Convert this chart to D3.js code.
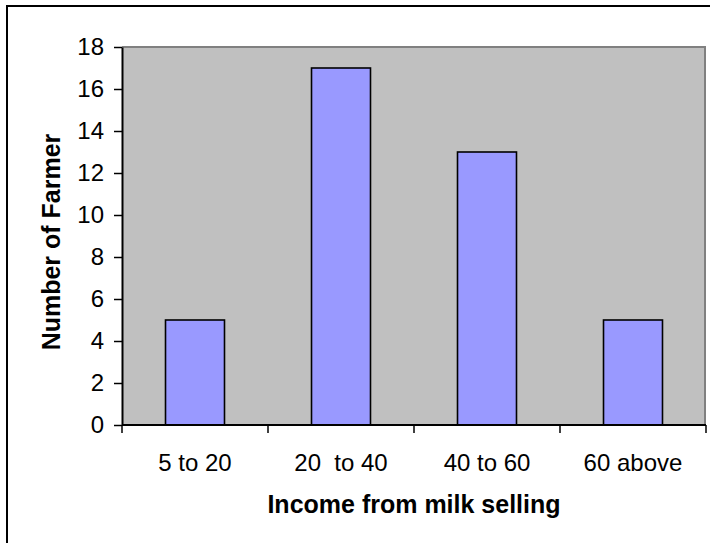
<!DOCTYPE html>
<html>
<head>
<meta charset="utf-8">
<script src="https://cdn.jsdelivr.net/npm/d3@7"></script>
<style>
  html, body { margin: 0; padding: 0; background: #fff; }
  svg { display: block; font-family: "Liberation Sans", Arial, sans-serif; }
</style>
</head>
<body>
<svg id="chart" width="710" height="543"></svg>
<script>
// Farmers grouped by income from milk selling
const categories = ["5 to 20", "20  to 40", "40 to 60", "60 above"];
const farmers = [5, 17, 13, 5];
const yTicks = [0, 2, 4, 6, 8, 10, 12, 14, 16, 18];
const xTitle = "Income from milk selling";
const yTitle = "Number of Farmer";

const svg = d3.select("#chart");
const plot = { left: 122, top: 47, right: 706, bottom: 425 };

// Outer chart frame
svg.append("rect")
  .attr("x", 7).attr("y", 6)
  .attr("width", 720).attr("height", 560)
  .attr("fill", "#fff")
  .attr("stroke", "#000").attr("stroke-width", 2);

const x = d3.scaleBand()
  .domain(categories)
  .range([plot.left, plot.right])
  .paddingInner(0.596)
  .paddingOuter(0.298);

const y = d3.scaleLinear()
  .domain([0, 18])
  .range([plot.bottom, plot.top]);

// Plot area background with grey border on top and right
svg.append("rect")
  .attr("x", plot.left).attr("y", plot.top)
  .attr("width", plot.right - plot.left).attr("height", plot.bottom - plot.top)
  .attr("fill", "#c0c0c0");
svg.append("path")
  .attr("d", `M${plot.left},${plot.top}H${plot.right - 1}V${plot.bottom}`)
  .attr("fill", "none").attr("stroke", "#808080").attr("stroke-width", 2);

// Bars
svg.append("g").selectAll("rect")
  .data(farmers)
  .join("rect")
  .attr("x", (d, i) => x(categories[i]))
  .attr("y", d => y(d))
  .attr("width", x.bandwidth())
  .attr("height", d => y(0) - y(d))
  .attr("fill", "#9999ff")
  .attr("stroke", "#000")
  .attr("stroke-width", 1.6);

// Y axis
const yAxis = svg.append("g")
  .attr("transform", `translate(${plot.left},0)`)
  .call(d3.axisLeft(y).tickValues(yTicks).tickSize(8).tickPadding(10).tickSizeOuter(0));
yAxis.select(".domain").attr("stroke", "#000").attr("stroke-width", 2);
yAxis.selectAll(".tick line").attr("stroke", "#000").attr("stroke-width", 1.5);
yAxis.selectAll(".tick text")
  .attr("font-size", 24).attr("fill", "#000")
  .attr("font-family", "Liberation Sans, Arial, sans-serif");

// X axis: ticks on category boundaries
const xAxis = svg.append("g")
  .attr("transform", `translate(0,${plot.bottom})`);
xAxis.append("line")
  .attr("x1", plot.left).attr("x2", plot.right)
  .attr("stroke", "#000").attr("stroke-width", 2);
const bounds = d3.range(categories.length + 1).map(i => x.range()[0] + i * x.step());
xAxis.selectAll("line.tick")
  .data(bounds)
  .join("line")
  .attr("class", "tick")
  .attr("x1", d => d).attr("x2", d => d)
  .attr("y1", 0).attr("y2", 8)
  .attr("stroke", "#000").attr("stroke-width", 1.5);
xAxis.selectAll("text")
  .data(categories)
  .join("text")
  .attr("x", d => x(d) + x.bandwidth() / 2)
  .attr("y", 46)
  .attr("text-anchor", "middle")
  .attr("font-size", 24)
  .style("white-space", "pre")
  .attr("fill", "#000")
  .text(d => d);

// Axis titles
svg.append("text")
  .attr("x", (plot.left + plot.right) / 2)
  .attr("y", 513)
  .attr("text-anchor", "middle")
  .attr("font-size", 25).attr("font-weight", "bold")
  .text(xTitle);
svg.append("text")
  .attr("transform", `translate(60,${(plot.top + plot.bottom) / 2 + 6}) rotate(-90)`)
  .attr("text-anchor", "middle")
  .attr("font-size", 25).attr("font-weight", "bold")
  .text(yTitle);
</script>
</body>
</html>
